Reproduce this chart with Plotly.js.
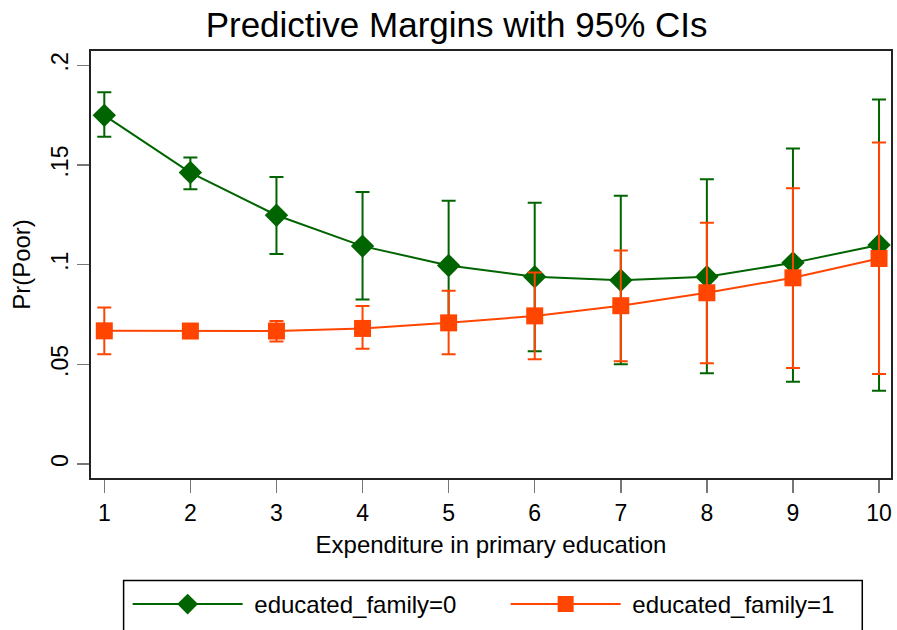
<!DOCTYPE html>
<html>
<head>
<meta charset="utf-8">
<script src="https://cdn.plot.ly/plotly-3.0.1.min.js"></script>
<style>
  html, body { margin: 0; padding: 0; background: #fff; }
  #chart { width: 897px; height: 630px; }
</style>
</head>
<body>
<div id="chart"></div>
<script>
// Expenditure levels on the x axis
const spending = [1, 2, 3, 4, 5, 6, 7, 8, 9, 10];

// educated_family = 0: predicted probability and 95% CI bounds
const margin0 = [0.1749, 0.1462, 0.1248, 0.1093, 0.0996, 0.0939, 0.0922, 0.0939, 0.1009, 0.1099];
const lower0  = [0.1641, 0.1378, 0.1053, 0.0825, 0.0672, 0.0566, 0.0500, 0.0455, 0.0413, 0.0367];
const upper0  = [0.1865, 0.1537, 0.1440, 0.1365, 0.1320, 0.1310, 0.1345, 0.1429, 0.1582, 0.1828];

// educated_family = 1: predicted probability and 95% CI bounds
const margin1 = [0.0668, 0.0667, 0.0667, 0.0680, 0.0708, 0.0743, 0.0794, 0.0859, 0.0934, 0.1031];
const lower1  = [0.0551, 0.0632, 0.0615, 0.0578, 0.0550, 0.0526, 0.0515, 0.0505, 0.0481, 0.0451];
const upper1  = [0.0785, 0.0702, 0.0717, 0.0792, 0.0869, 0.0960, 0.1071, 0.1210, 0.1383, 0.1613];

const yTickVals  = [0, 0.05, 0.1, 0.15, 0.2];
const yTickTexts = ['0', '.05', '.1', '.15', '.2'];

const seriesNames = ['educated_family=0', 'educated_family=1'];

const GREEN = '#006400';
const ORANGE = '#FF4500';
const FONT = '"Liberation Sans", Arial, sans-serif';

function plusErr(hi, mid) { return hi.map((h, i) => h - mid[i]); }
function minusErr(lo, mid) { return lo.map((l, i) => mid[i] - l); }

// a no-break space opens a little room between legend line and label
const legendLabel = s => '\u00A0' + s;

const traces = [
  {
    x: spending, y: margin0, name: legendLabel(seriesNames[0]),
    type: 'scatter', mode: 'lines+markers',
    line: { color: GREEN, width: 2 },
    marker: { symbol: 'diamond', size: 18, color: GREEN },
    error_y: { type: 'data', symmetric: false,
      array: plusErr(upper0, margin0), arrayminus: minusErr(lower0, margin0),
      color: GREEN, thickness: 2, width: 7 }
  },
  {
    x: spending, y: margin1, name: legendLabel(seriesNames[1]),
    type: 'scatter', mode: 'lines+markers',
    line: { color: ORANGE, width: 2 },
    marker: { symbol: 'square', size: 17, color: ORANGE },
    error_y: { type: 'data', symmetric: false,
      array: plusErr(upper1, margin1), arrayminus: minusErr(lower1, margin1),
      color: ORANGE, thickness: 2, width: 7 }
  }
];

const layout = {
  width: 897, height: 630,
  margin: { l: 91, r: 6, t: 51, b: 152, pad: 0, autoexpand: false },
  paper_bgcolor: '#fff', plot_bgcolor: '#fff',
  font: { family: FONT, color: '#000', size: 24 },
  showlegend: true,
  title: {
    text: 'Predictive Margins with 95% CIs',
    font: { family: FONT, size: 35, color: '#000' },
    xref: 'container', x: 0.509, xanchor: 'center',
    yref: 'container', y: 0.9603, yanchor: 'middle'
  },
  xaxis: {
    range: [0.8455, 10.139],
    tickvals: spending, ticktext: spending.map(String),
    ticks: 'outside', ticklen: 13, tickwidth: 1.5, tickcolor: '#777',
    tickfont: { size: 23 },
    showline: true, linecolor: '#222', linewidth: 2, mirror: true,
    showgrid: false, zeroline: false,
    title: { text: 'Expenditure in primary education', font: { size: 24 }, standoff: 12 }
  },
  yaxis: {
    range: [-0.00702, 0.20717],
    tickvals: yTickVals, ticktext: yTickTexts,
    tickangle: -90,
    ticks: 'outside', ticklen: 12, tickwidth: 1.5, tickcolor: '#777',
    tickfont: { size: 23 },
    showline: true, linecolor: '#222', linewidth: 2, mirror: true,
    showgrid: false, zeroline: false,
    title: { text: 'Pr(Poor)', font: { size: 24 }, standoff: 9 }
  },
  legend: {
    orientation: 'h',
    x: 0.0458, xanchor: 'left',
    y: -0.2434, yanchor: 'top',
    font: { size: 24 },
    itemwidth: 110,
    entrywidth: 253,
    bgcolor: 'rgba(0,0,0,0)',
    borderwidth: 0,
    traceorder: 'normal'
  },
  shapes: [
    { type: 'rect', xref: 'paper', yref: 'paper', layer: 'below',
      x0: 0.04075, x1: 0.9641, y0: -0.2403, y1: -0.45,
      line: { color: '#000', width: 1.5 }, fillcolor: '#fff' }
  ]
};

Plotly.newPlot('chart', traces, layout, { displayModeBar: false, staticPlot: true });
</script>
</body>
</html>
